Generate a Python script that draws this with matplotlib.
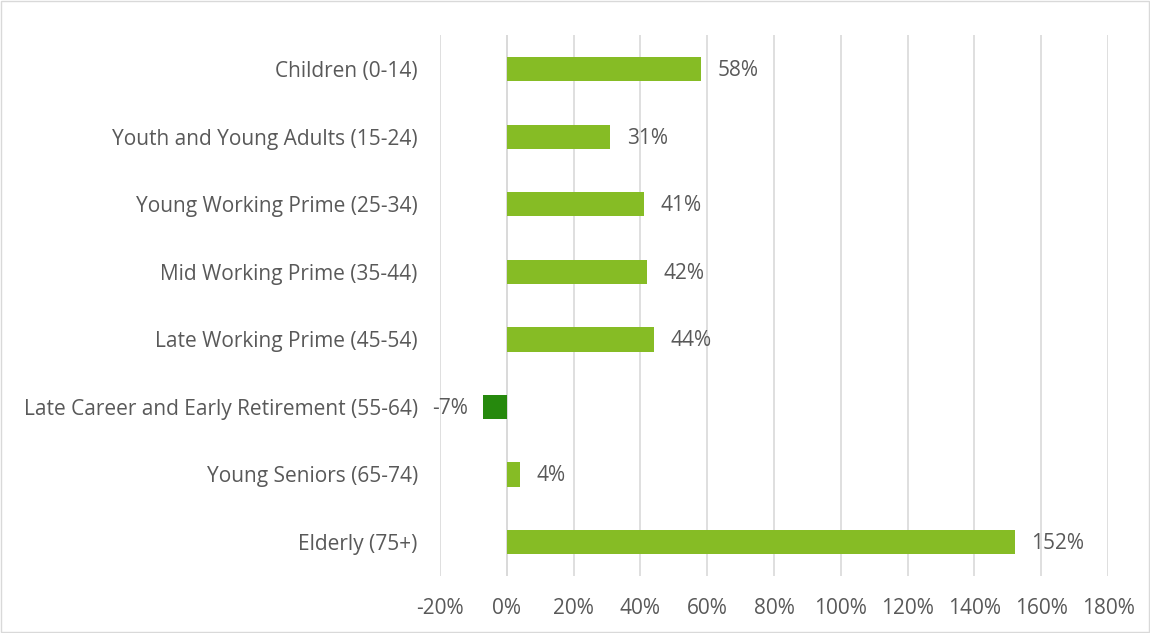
import matplotlib
matplotlib.use("Agg")
import matplotlib.pyplot as plt
from matplotlib.patches import Rectangle

categories = [
    "Children (0-14)",
    "Youth and Young Adults (15-24)",
    "Young Working Prime (25-34)",
    "Mid Working Prime (35-44)",
    "Late Working Prime (45-54)",
    "Late Career and Early Retirement (55-64)",
    "Young Seniors (65-74)",
    "Elderly (75+)",
]
values = [58, 31, 41, 42, 44, -7, 4, 152]
xticks = [-20, 0, 20, 40, 60, 80, 100, 120, 140, 160, 180]

POS = "#86BC25"
NEG = "#26890D"
TXT = "#595959"
GRID = "#D9D9D9"
FS = 15

plt.rcParams["font.family"] = ["Open Sans", "DejaVu Sans"]

fig = plt.figure(figsize=(11.5, 6.33), dpi=100)
ax = fig.add_axes([0.3826, 0.0904, 0.5809, 0.8536])

y = list(range(len(categories)))
colors = [NEG if v < 0 else POS for v in values]
ax.barh(y, values, height=0.36, color=colors, zorder=3)

# value labels: outside the bar end, left side for negatives
for yi, v in zip(y, values):
    if v < 0:
        ax.annotate(f"{v}%", (v, yi), xytext=(-11, -1), textcoords="offset points",
                    ha="right", va="center", fontsize=FS, color=TXT)
    else:
        ax.annotate(f"{v}%", (v, yi), xytext=(12, -1), textcoords="offset points",
                    ha="left", va="center", fontsize=FS, color=TXT)

ax.set_xlim(-20, 180)
ax.set_ylim(len(categories) - 0.5, -0.5)
ax.set_xticks(xticks)
ax.set_xticklabels([f"{t}%" for t in xticks])
ax.set_yticks(y)
ax.set_yticklabels(categories)
ax.tick_params(axis="x", length=0, pad=16, labelsize=FS, labelcolor=TXT)
ax.tick_params(axis="y", length=0, pad=16, labelsize=FS, labelcolor=TXT)
ax.grid(axis="x", color=GRID, linewidth=1.2, zorder=0)
ax.axvline(0, color=GRID, linewidth=1.2, zorder=1)
for s in ax.spines.values():
    s.set_visible(False)

fig.patches.append(Rectangle((0.001, 0.001), 0.998, 0.997, transform=fig.transFigure,
                             fill=False, edgecolor="#D9D9D9", linewidth=1))

fig.savefig("out.png", dpi=100)
